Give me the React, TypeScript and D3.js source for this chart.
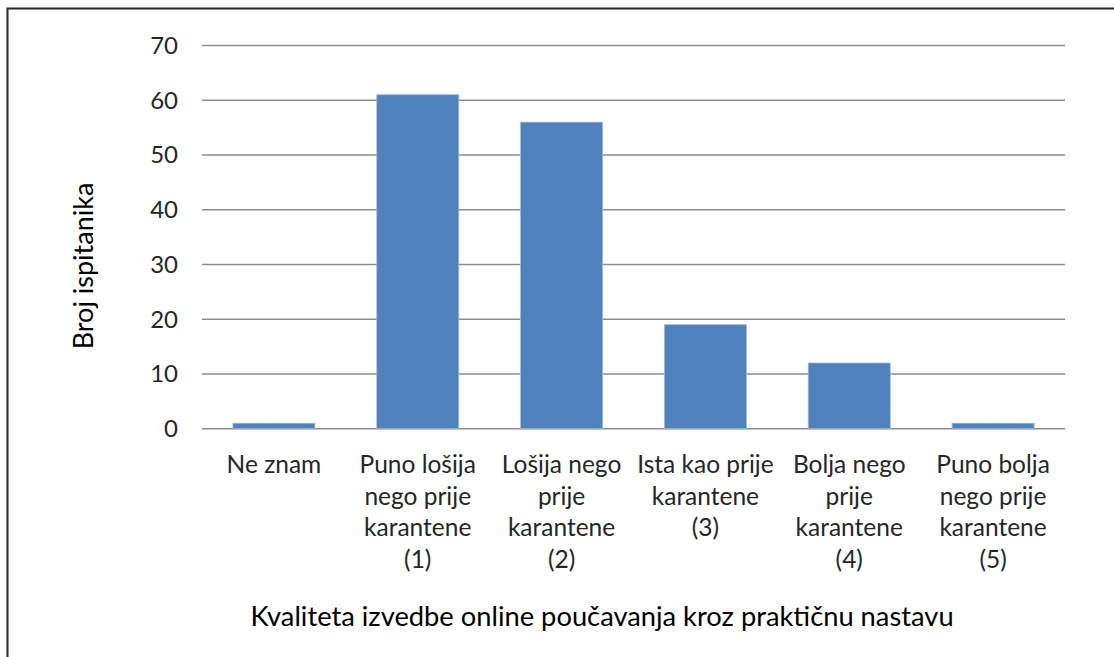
import React, { useEffect, useRef } from 'react';
import * as d3 from 'd3';

const categories = ['Ne znam', 'Puno lošija nego prije karantene (1)', 'Lošija nego prije karantene (2)', 'Ista kao prije karantene (3)', 'Bolja nego prije karantene (4)', 'Puno bolja nego prije karantene (5)'];
const labelLines = [
  ['Ne znam'],
  ['Puno lošija', 'nego prije', 'karantene', '(1)'],
  ['Lošija nego', 'prije', 'karantene', '(2)'],
  ['Ista kao prije', 'karantene', '(3)'],
  ['Bolja nego', 'prije', 'karantene', '(4)'],
  ['Puno bolja', 'nego prije', 'karantene', '(5)'],
];
const values = [1, 61, 56, 19, 12, 1];
const yTicks = [0, 10, 20, 30, 40, 50, 60, 70];

const App = () => {
  const ref = useRef<SVGSVGElement>(null);

  useEffect(() => {
    const svg = d3.select(ref.current);
    svg.selectAll('*').remove();

    const font = 'Lato, Calibri, sans-serif';
    const left = 202, right = 1065, top = 45.5, bottom = 428.7;

    // frame
    svg.append('rect')
      .attr('x', 7.5).attr('y', 8.5)
      .attr('width', 1120).attr('height', 700)
      .attr('fill', 'none').attr('stroke', '#262626').attr('stroke-width', 2);

    const x = d3.scaleBand<string>()
      .domain(categories)
      .range([left, right])
      .paddingInner(0.43)
      .paddingOuter(0.215);

    const y = d3.scaleLinear().domain([0, 70]).range([bottom, top]);

    svg.append('g').selectAll('line')
      .data(yTicks)
      .enter()
      .append('line')
      .attr('x1', left).attr('x2', right)
      .attr('y1', d => y(d)).attr('y2', d => y(d))
      .attr('stroke', '#8c8c8c').attr('stroke-width', 1.6);

    svg.append('g').selectAll('text')
      .data(yTicks)
      .enter()
      .append('text')
      .attr('x', 178)
      .attr('y', d => y(d) + 8.5)
      .attr('text-anchor', 'end')
      .style('font-family', font)
      .style('font-size', '24px')
      .attr('fill', '#262626')
      .text(d => d);

    svg.append('g').selectAll('rect')
      .data(values)
      .enter()
      .append('rect')
      .attr('x', (d, i) => x(categories[i])!)
      .attr('y', d => y(d))
      .attr('width', x.bandwidth())
      .attr('height', d => y(0) - y(d))
      .attr('fill', '#4f81bd')
      .attr('stroke', '#9db7da')
      .attr('stroke-width', 0.8);

    labelLines.forEach((lines, i) => {
      const cx = x(categories[i])! + x.bandwidth() / 2;
      const t = svg.append('text')
        .attr('text-anchor', 'middle')
        .style('font-family', font)
        .style('font-size', '24.5px')
        .attr('fill', '#262626');
      lines.forEach((line, j) => {
        t.append('tspan')
          .attr('x', cx)
          .attr('y', 473 + j * 31.5)
          .text(line);
      });
    });

    svg.append('text')
      .attr('transform', 'translate(93,266) rotate(-90)')
      .attr('text-anchor', 'middle')
      .style('font-family', font)
      .style('font-size', '27px')
      .attr('fill', '#000')
      .text('Broj ispitanika');

    svg.append('text')
      .attr('x', 602)
      .attr('y', 626)
      .attr('text-anchor', 'middle')
      .style('font-family', font)
      .style('font-size', '27.3px')
      .attr('fill', '#000')
      .text('Kvaliteta izvedbe online poučavanja kroz praktičnu nastavu');
  }, []);

  return (
    <svg ref={ref} width={1114} height={657}
      style={{ position: 'absolute', left: 0, top: 0, background: '#fff' }} />
  );
};

export default App;
